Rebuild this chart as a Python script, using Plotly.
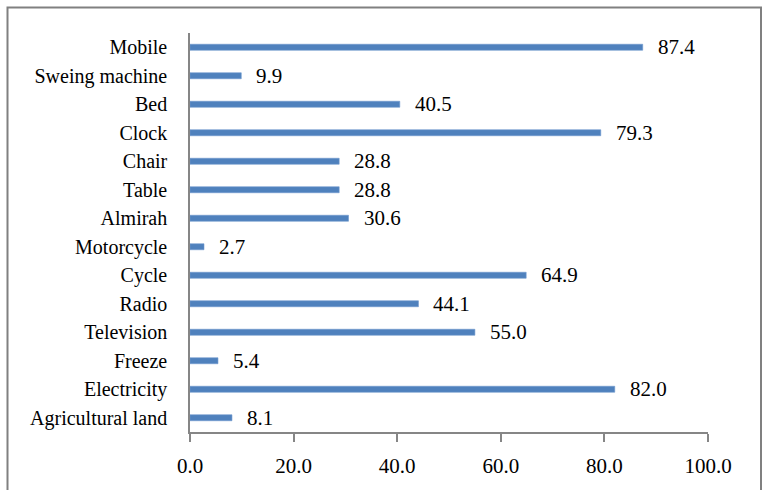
import plotly.graph_objects as go

# Household assets (percent of households), listed top to bottom
items = [
    "Mobile", "Sweing machine", "Bed", "Clock", "Chair", "Table", "Almirah",
    "Motorcycle", "Cycle", "Radio", "Television", "Freeze", "Electricity",
    "Agricultural land",
]
percent = [87.4, 9.9, 40.5, 79.3, 28.8, 28.8, 30.6, 2.7, 64.9, 44.1, 55.0, 5.4, 82.0, 8.1]
x_ticks = [0, 20, 40, 60, 80, 100]
x_tick_labels = [f"{v:.1f}" for v in x_ticks]

FONT = "Liberation Serif"
BAR = "#4F81BD"
AXIS = "#868686"

fig = go.Figure(
    go.Bar(
        x=percent,
        y=items,
        orientation="h",
        width=0.21,
        marker=dict(color=BAR, line=dict(color="#6F98CF", width=0.6)),
        hoverinfo="x+y",
    )
)

# value labels to the right of each bar
for name, val in zip(items, percent):
    fig.add_annotation(
        x=val, y=name, text=f"{val:.1f}", showarrow=False,
        xanchor="left", yanchor="middle", xshift=13,
        font=dict(family=FONT, size=21, color="#000000"),
    )

# outer chart frame
L, R, T, B = 190, 708, 33, 432
W, H = R - L, B - T
def px_x(p):
    return (p - L) / W
def px_y(p):
    return (B - p) / H

fig.add_shape(
    type="rect", xref="paper", yref="paper",
    x0=px_x(7.5), x1=px_x(761), y0=px_y(500), y1=px_y(7.5),
    line=dict(color="#808080", width=2), fillcolor="rgba(0,0,0,0)",
    layer="below",
)

fig.update_layout(
    width=763, height=490,
    margin=dict(l=L, r=763 - R, t=T, b=490 - B),
    paper_bgcolor="white", plot_bgcolor="white",
    showlegend=False,
    font=dict(family=FONT, color="#000000"),
    xaxis=dict(
        range=[0, 100], tickvals=x_ticks, ticktext=x_tick_labels,
        showgrid=False, zeroline=False,
        showline=True, linecolor=AXIS, linewidth=1.5,
        ticks="outside", ticklen=8, tickwidth=1.5, tickcolor=AXIS,
        tickfont=dict(family=FONT, size=21, color="#000000"),
        ticklabelstandoff=6,
        fixedrange=True,
    ),
    yaxis=dict(
        autorange="reversed",
        showgrid=False, zeroline=False,
        showline=True, linecolor=AXIS, linewidth=1.5,
        ticks="",
        tickfont=dict(family=FONT, size=20, color="#000000"),
        ticklabelstandoff=17,
        fixedrange=True,
    ),
)

fig.write_html("out.html")
